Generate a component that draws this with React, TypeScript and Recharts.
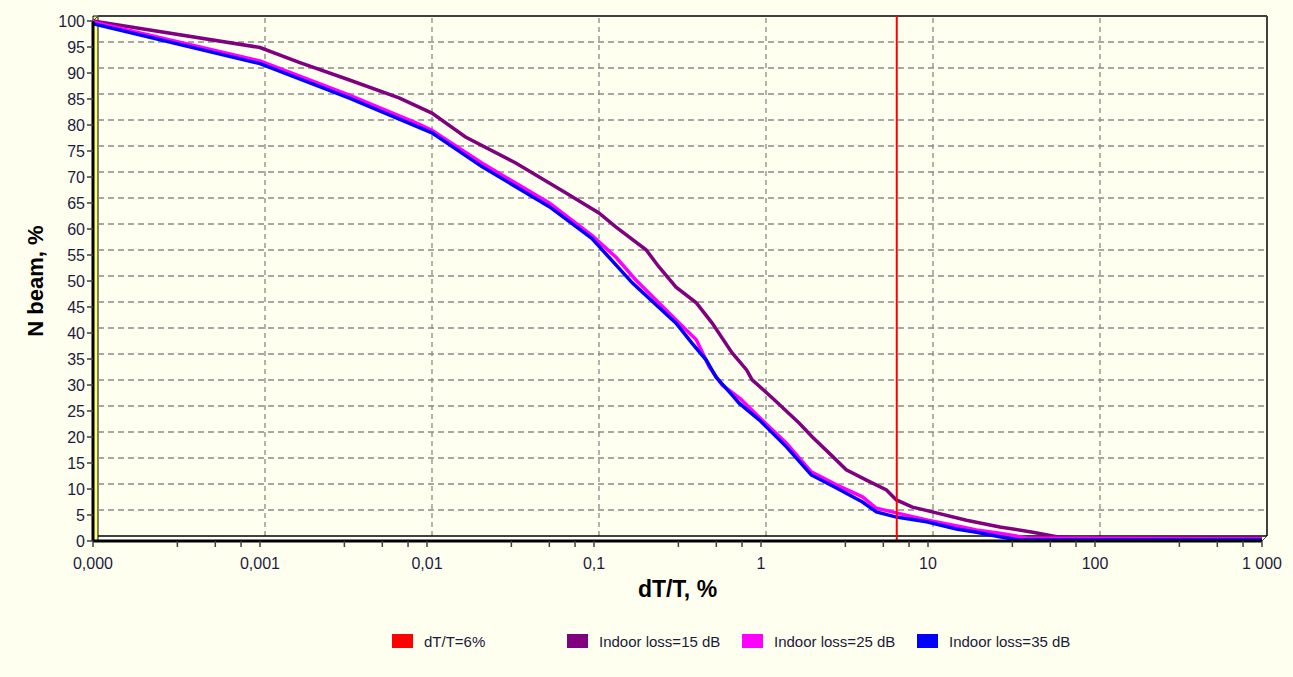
import React from 'react';
import { LineChart, Line, XAxis, YAxis, ReferenceLine, ReferenceArea, Label } from 'recharts';

// ---- data ----
const xMajorTicks = [0.0001, 0.001, 0.01, 0.1, 1, 10, 100, 1000];
const xMajorLabels = ['0,000', '0,001', '0,01', '0,1', '1', '10', '100', '1 000'];
const xMinorFactors = [3.2, 5.4, 7.7];
const yTicks = [0, 5, 10, 15, 20, 25, 30, 35, 40, 45, 50, 55, 60, 65, 70, 75, 80, 85, 90, 95, 100];
const yGridValues = [5, 10, 15, 20, 25, 30, 35, 40, 45, 50, 55, 60, 65, 70, 75, 80, 85, 90, 95];
const xGridValues = [0.001, 0.01, 0.1, 1, 10, 100];

const legendNames = ['dT/T=6%', 'Indoor loss=15 dB', 'Indoor loss=25 dB', 'Indoor loss=35 dB'];
const legendColors = ['#FF0000', '#800080', '#FF00FF', '#0000FF'];
const thresholdX = 6.5;

const loss15 = [
  { x: 0.0001, y: 100 }, { x: 0.001, y: 94.9 }, { x: 0.0017, y: 92.1 }, { x: 0.0034, y: 88.7 },
  { x: 0.0068, y: 85.2 }, { x: 0.0107, y: 82.3 }, { x: 0.017, y: 77.7 }, { x: 0.034, y: 72.7 },
  { x: 0.068, y: 66.9 }, { x: 0.107, y: 63.1 }, { x: 0.135, y: 60.4 }, { x: 0.205, y: 56 },
  { x: 0.245, y: 52.7 }, { x: 0.31, y: 48.8 }, { x: 0.41, y: 45.8 }, { x: 0.51, y: 41.9 },
  { x: 0.67, y: 36.2 }, { x: 0.82, y: 32.9 }, { x: 0.885, y: 31 }, { x: 1.17, y: 27.5 },
  { x: 1.69, y: 22.7 }, { x: 2.03, y: 20 }, { x: 2.56, y: 16.9 }, { x: 3.24, y: 13.7 },
  { x: 4.28, y: 11.7 }, { x: 5.64, y: 9.8 }, { x: 6.47, y: 7.9 }, { x: 8.07, y: 6.5 },
  { x: 10.6, y: 5.6 }, { x: 17, y: 4.0 }, { x: 26.9, y: 2.7 }, { x: 42.4, y: 1.7 },
  { x: 59, y: 0.8 }, { x: 75, y: 0.6 }, { x: 1000, y: 0.6 },
];

const loss25 = [
  { x: 0.0001, y: 99.8 }, { x: 0.001, y: 92.3 }, { x: 0.0034, y: 85.8 }, { x: 0.0086, y: 80.4 },
  { x: 0.0107, y: 79 }, { x: 0.0213, y: 72.7 }, { x: 0.054, y: 65 }, { x: 0.097, y: 58.8 },
  { x: 0.135, y: 54.6 }, { x: 0.178, y: 50.2 }, { x: 0.31, y: 42.5 }, { x: 0.41, y: 38.7 },
  { x: 0.49, y: 33.5 }, { x: 0.585, y: 30 }, { x: 0.75, y: 27.4 }, { x: 0.975, y: 23.8 },
  { x: 1.42, y: 18.8 }, { x: 2.0, y: 13.3 }, { x: 2.83, y: 10.8 }, { x: 4.05, y: 8.5 },
  { x: 4.91, y: 6.3 }, { x: 6.47, y: 5.4 }, { x: 10, y: 4.0 }, { x: 16, y: 2.7 },
  { x: 19.5, y: 2.1 }, { x: 26.9, y: 1.5 }, { x: 39, y: 0.6 }, { x: 1000, y: 0.4 },
];

const loss35 = [
  { x: 0.0001, y: 99.5 }, { x: 0.001, y: 91.8 }, { x: 0.0034, y: 85.2 }, { x: 0.0107, y: 78.5 },
  { x: 0.0213, y: 72 }, { x: 0.054, y: 64.3 }, { x: 0.097, y: 58.2 }, { x: 0.17, y: 49.6 },
  { x: 0.31, y: 41.9 }, { x: 0.387, y: 38 }, { x: 0.47, y: 34.8 }, { x: 0.538, y: 31.5 },
  { x: 0.67, y: 28.1 }, { x: 0.74, y: 26.5 }, { x: 0.975, y: 23.3 }, { x: 1.42, y: 18.1 },
  { x: 2.0, y: 12.7 }, { x: 2.83, y: 10.2 }, { x: 4.05, y: 7.5 }, { x: 4.91, y: 5.6 },
  { x: 6.47, y: 4.6 }, { x: 9.8, y: 3.7 }, { x: 14.8, y: 2.3 }, { x: 19.5, y: 1.7 },
  { x: 26.9, y: 0.8 }, { x: 35.4, y: 0.2 }, { x: 1000, y: 0.2 },
];

// ---- layout / style ----
const FONT = '"Liberation Sans", Arial, sans-serif';
const TICK_COLOR = '#1c1c40';
const XMIN = 0.0001;
const XMAX = 1000;
const DEPTH_X = Math.pow(10, 5 / 167); // 3D depth offset expressed in x-scale factor
const DEPTH_Y = 5 / 5.2; // 3D depth offset in y units

const allXTicks: number[] = [];
xMajorTicks.forEach((d, i) => {
  allXTicks.push(d);
  if (i < xMajorTicks.length - 1) xMinorFactors.forEach((f) => allXTicks.push(d * f));
});

const XTick = (props: any) => {
  const { x, y, payload } = props;
  const idx = xMajorTicks.findIndex((v) => Math.abs(v - payload.value) / v < 1e-6);
  if (idx < 0) return <g />;
  return (
    <text x={x} y={y} dy={20} textAnchor="middle" fontSize={16} fontFamily={FONT} fill={TICK_COLOR}>
      {xMajorLabels[idx]}
    </text>
  );
};

const gridStyle = { stroke: '#8a8a8a', strokeWidth: 1.3 };
const LINE_W = 3.5;

export default function App() {
  return (
    <div
      style={{
        position: 'absolute',
        left: 0,
        top: 0,
        width: 1293,
        height: 677,
        background: '#FFFFF0',
        fontFamily: FONT,
      }}
    >
      <LineChart width={1293} height={677} margin={{ top: 21, right: 31, bottom: 106, left: 0 }}>
        <XAxis
          type="number"
          dataKey="x"
          scale="log"
          domain={[XMIN, XMAX]}
          allowDataOverflow
          ticks={allXTicks}
          interval={0}
          height={30}
          tickSize={6}
          tickMargin={2}
          tick={<XTick />}
          axisLine={{ stroke: '#000', strokeWidth: 3 }}
          tickLine={{ stroke: '#404040', strokeWidth: 1.5 }}
        >
          <Label
            value="dT/T, %"
            position="bottom"
            offset={10}
            style={{ fontSize: 23, fontWeight: 'bold', fontFamily: FONT, fill: '#000' }}
          />
        </XAxis>
        <YAxis
          type="number"
          domain={[0, 100]}
          ticks={yTicks}
          interval={0}
          width={93}
          tickSize={6}
          tickMargin={2}
          tick={{ fontSize: 16, fontFamily: FONT, fill: TICK_COLOR }}
          axisLine={{ stroke: '#000', strokeWidth: 3 }}
          tickLine={{ stroke: '#404040', strokeWidth: 1.5 }}
        >
          <Label
            value="N beam, %"
            angle={-90}
            position="insideLeft"
            offset={35}
            style={{ fontSize: 22, fontWeight: 'bold', fontFamily: FONT, fill: '#000', textAnchor: 'middle' }}
          />
        </YAxis>

        {/* floor and left wall of the 3D box */}
        <ReferenceArea
          x1={XMIN}
          x2={XMAX * DEPTH_X}
          y1={0}
          y2={DEPTH_Y}
          fill="#FFFFFF"
          fillOpacity={1}
          stroke="none"
          ifOverflow="visible"
        />
        <ReferenceArea
          x1={XMIN}
          x2={XMIN * DEPTH_X}
          y1={0}
          y2={100 + DEPTH_Y}
          fill="#FFFF80"
          fillOpacity={1}
          stroke="#000"
          strokeWidth={1}
          ifOverflow="visible"
        />

        {/* back-wall grid */}
        {yGridValues.map((v) => (
          <ReferenceLine
            key={'hg' + v}
            segment={[
              { x: XMIN * DEPTH_X, y: v + DEPTH_Y },
              { x: XMAX * DEPTH_X, y: v + DEPTH_Y },
            ]}
            strokeDasharray="6 4"
            {...gridStyle}
            ifOverflow="visible"
          />
        ))}
        {xGridValues.map((v) => (
          <ReferenceLine
            key={'vg' + v}
            segment={[
              { x: v * DEPTH_X, y: DEPTH_Y },
              { x: v * DEPTH_X, y: 100 + DEPTH_Y },
            ]}
            strokeDasharray="5 4"
            {...gridStyle}
            ifOverflow="visible"
          />
        ))}

        {/* back-wall frame */}
        <ReferenceLine
          segment={[
            { x: XMIN * DEPTH_X, y: 100 + DEPTH_Y },
            { x: XMAX * DEPTH_X, y: 100 + DEPTH_Y },
          ]}
          stroke="#404040"
          strokeWidth={2}
          ifOverflow="visible"
        />
        <ReferenceLine
          segment={[
            { x: XMAX * DEPTH_X, y: DEPTH_Y },
            { x: XMAX * DEPTH_X, y: 100 + DEPTH_Y },
          ]}
          stroke="#404040"
          strokeWidth={2}
          ifOverflow="visible"
        />
        <ReferenceLine
          segment={[
            { x: XMIN * DEPTH_X, y: DEPTH_Y },
            { x: XMAX * DEPTH_X, y: DEPTH_Y },
          ]}
          stroke="#000"
          strokeWidth={1.5}
          ifOverflow="visible"
        />
        <ReferenceLine
          segment={[
            { x: XMIN, y: 100 },
            { x: XMIN * DEPTH_X, y: 100 + DEPTH_Y },
          ]}
          stroke="#404040"
          strokeWidth={1}
          ifOverflow="visible"
        />
        <ReferenceLine
          segment={[
            { x: XMAX, y: 0 },
            { x: XMAX * DEPTH_X, y: DEPTH_Y },
          ]}
          stroke="#404040"
          strokeWidth={1}
          ifOverflow="visible"
        />

        <Line data={loss15} dataKey="y" type="linear" stroke="#800080" strokeWidth={LINE_W} dot={false} isAnimationActive={false} />
        <Line data={loss25} dataKey="y" type="linear" stroke="#FF00FF" strokeWidth={LINE_W} dot={false} isAnimationActive={false} />
        <Line data={loss35} dataKey="y" type="linear" stroke="#0000FF" strokeWidth={LINE_W} dot={false} isAnimationActive={false} />

        <ReferenceLine
          segment={[
            { x: thresholdX, y: 0 },
            { x: thresholdX, y: 100 + DEPTH_Y },
          ]}
          stroke="#FF0000"
          strokeWidth={2}
          ifOverflow="visible"
        />
      </LineChart>

      <div
        style={{
          position: 'absolute',
          left: 392,
          top: 632,
          display: 'flex',
          fontSize: 15,
          color: '#1a1a3a',
          fontFamily: FONT,
        }}
      >
        {legendNames.map((n, i) => (
          <div key={n} style={{ width: 175, display: 'flex', alignItems: 'center', height: 18 }}>
            <span
              style={{ display: 'inline-block', width: 21, height: 14, background: legendColors[i], marginRight: 11 }}
            />
            <span>{n}</span>
          </div>
        ))}
      </div>
    </div>
  );
}
